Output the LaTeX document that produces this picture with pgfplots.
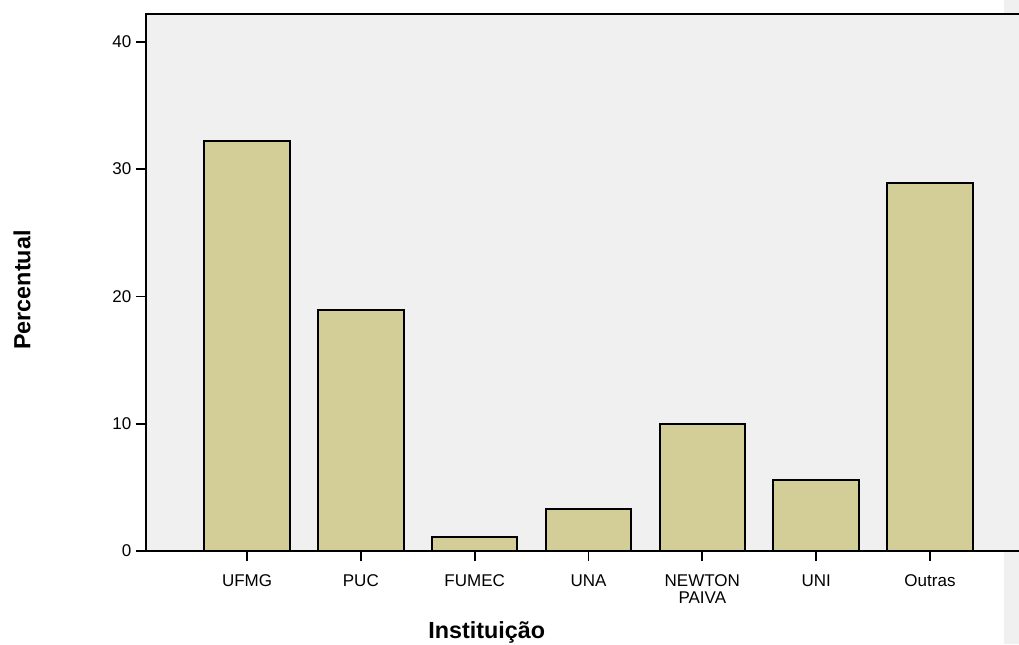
\documentclass[border=0pt]{standalone}
\usepackage{pgfplots}
\pgfplotsset{compat=1.18}
\usepackage{fontspec}
\setmainfont{Liberation Sans}
\definecolor{barfill}{HTML}{D3CE98}
\definecolor{plotbg}{HTML}{F0F0F0}

\begin{document}
\begin{tikzpicture}
% grey strip at the right edge
\fill[plotbg] (643.5pt,-69.75pt) rectangle (654.75pt,413.25pt);
\begin{axis}[
    at={(0,0)}, anchor=south west,
    scale only axis,
    width=663.75pt, height=402.75pt,
    xmin=-0.8875, xmax=6.8875,
    ymin=0, ymax=42.18,
    axis background/.style={fill=plotbg},
    axis line style={line width=1.3pt},
    xtick=data,
    xticklabels={UFMG,PUC,FUMEC,UNA,NEWTON\\PAIVA,UNI,Outras},
    xticklabel style={align=center, font=\fontsize{12.75}{12.75}\selectfont, yshift=-6.5pt},
    ytick={0,10,20,30,40},
    yticklabel style={font=\fontsize{12.75}{12}\selectfont},
    /pgf/number format/assume math mode=true,
    tick align=outside,
    xtick pos=bottom, ytick pos=left,
    major tick length=7.5pt,
    tick style={line width=1.3pt, black},
    xlabel={\bfseries Instituição},
    ylabel={\bfseries Percentual},
    xlabel style={font=\fontsize{17.5}{18}\selectfont, at={(axis description cs:0.385,0)}, anchor=base, yshift=-65.25pt},
    ylabel style={font=\fontsize{17.5}{18}\selectfont, at={(axis description cs:0,0.486)}, anchor=center, yshift=93pt},
    ybar, bar width=0.75,
    ]
\addplot[fill=barfill, draw=black, line width=1.5pt, bar shift=0pt]
  coordinates {(0,32.2) (1,18.9) (2,1.1) (3,3.3) (4,10.0) (5,5.6) (6,28.9)};
\end{axis}
\pgfresetboundingbox
\path (-109.5pt,-69.75pt) rectangle (654.75pt,413.25pt);
\end{tikzpicture}
\end{document}
